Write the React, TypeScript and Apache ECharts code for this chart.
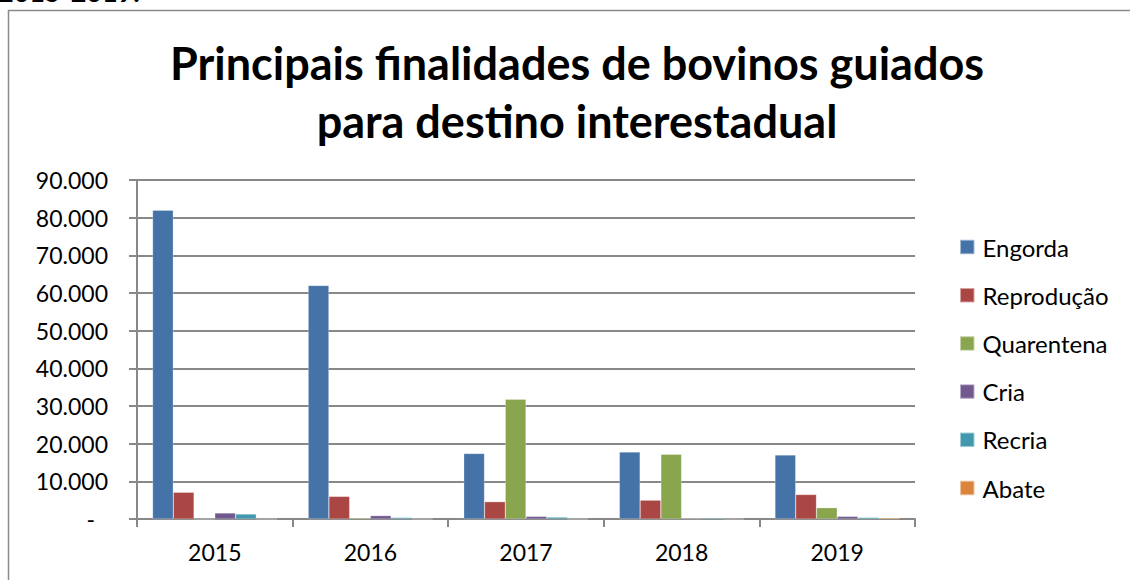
import React, { useEffect, useRef } from "react";
import * as echarts from "echarts";

const years = ["2015", "2016", "2017", "2018", "2019"];
const engorda = [82000, 62000, 17400, 17800, 17000];
const reproducao = [7100, 6000, 4600, 5000, 6500];
const quarentena = [0, 300, 31800, 17200, 3000];
const cria = [1600, 900, 700, 150, 700];
const recria = [1300, 400, 500, 300, 400];
const abate = [0, 0, 0, 0, 300];

const seriesDefs = [
  { name: "Engorda", data: engorda, color: "#4572A7" },
  { name: "Reprodução", data: reproducao, color: "#AA4643" },
  { name: "Quarentena", data: quarentena, color: "#89A54E" },
  { name: "Cria", data: cria, color: "#71588F" },
  { name: "Recria", data: recria, color: "#4198AF" },
  { name: "Abate", data: abate, color: "#DB843D" },
];

const FONT = "Lato, 'Noto Sans', sans-serif";

function fmt(v: number): string {
  if (v === 0) return "{z|-}";
  const s = String(Math.round(v));
  return s.replace(/\B(?=(\d{3})+(?!\d))/g, ".");
}

export default function App() {
  const ref = useRef<HTMLDivElement>(null);
  useEffect(() => {
    if (!ref.current) return;
    const chart = echarts.init(ref.current, undefined, { renderer: "svg" });
    chart.setOption({
      animation: false,
      backgroundColor: "#ffffff",
      title: {
        text: "Principais finalidades de bovinos guiados\npara destino interestadual",
        left: 572,
        top: 29,
        textAlign: "center",
        textStyle: {
          fontFamily: FONT,
          fontSize: 45,
          fontWeight: "bold",
          color: "#000",
          lineHeight: 58,
        },
      },
      graphic: [
        {
          type: "rect",
          shape: { x: 8.5, y: 10.5, width: 1140, height: 600 },
          style: { fill: "none", stroke: "#8a8a8a", lineWidth: 1.5 },
          silent: true,
        },
        {
          type: "text",
          x: -2,
          y: 5,
          style: {
            text: "2015-2019.",
            font: "bold 27px Lato, sans-serif",
            fill: "#000",
            verticalAlign: "bottom",
          },
          silent: true,
        },
      ],
      legend: {
        orient: "vertical",
        left: 954,
        top: 230,
        itemWidth: 14.5,
        itemHeight: 14.5,
        itemGap: 24.2,
        icon: "rect",
        textStyle: {
          fontFamily: FONT,
          fontSize: 24,
          lineHeight: 24,
          color: "#000",
          padding: [0, 0, 0, 3],
        },
        data: seriesDefs.map((s) => s.name),
      },
      grid: { left: 137, right: 215, top: 180, bottom: 61, containLabel: false },
      xAxis: {
        type: "category",
        data: years,
        axisLine: { show: true, lineStyle: { color: "#888", width: 2 } },
        axisTick: { show: true, length: 8, lineStyle: { color: "#888", width: 2 } },
        axisLabel: { fontFamily: FONT, fontSize: 23, color: "#000", margin: 21 },
        splitLine: { show: false },
      },
      yAxis: {
        type: "value",
        min: 0,
        max: 90000,
        interval: 10000,
        axisLine: { show: true, lineStyle: { color: "#888", width: 2 } },
        axisTick: { show: true, length: 8, lineStyle: { color: "#888", width: 2 } },
        axisLabel: {
          fontFamily: FONT,
          fontSize: 23,
          color: "#000",
          margin: 29,
          formatter: fmt,
          rich: { z: { fontFamily: FONT, fontSize: 23, color: "#000", padding: [0, 13, 0, 0] } },
        },
        splitLine: { show: true, lineStyle: { color: "#888", width: 2 } },
      },
      series: seriesDefs.map((s) => ({
        name: s.name,
        type: "bar",
        data: s.data,
        barGap: "0%",
        barCategoryGap: "20%",
        itemStyle: { color: s.color, borderColor: "rgba(255,255,255,0.5)", borderWidth: 0.5 },
      })),
    });
    return () => chart.dispose();
  }, []);
  return (
    <div
      ref={ref}
      style={{ position: "absolute", left: 0, top: 0, width: 1130, height: 580 }}
    />
  );
}
